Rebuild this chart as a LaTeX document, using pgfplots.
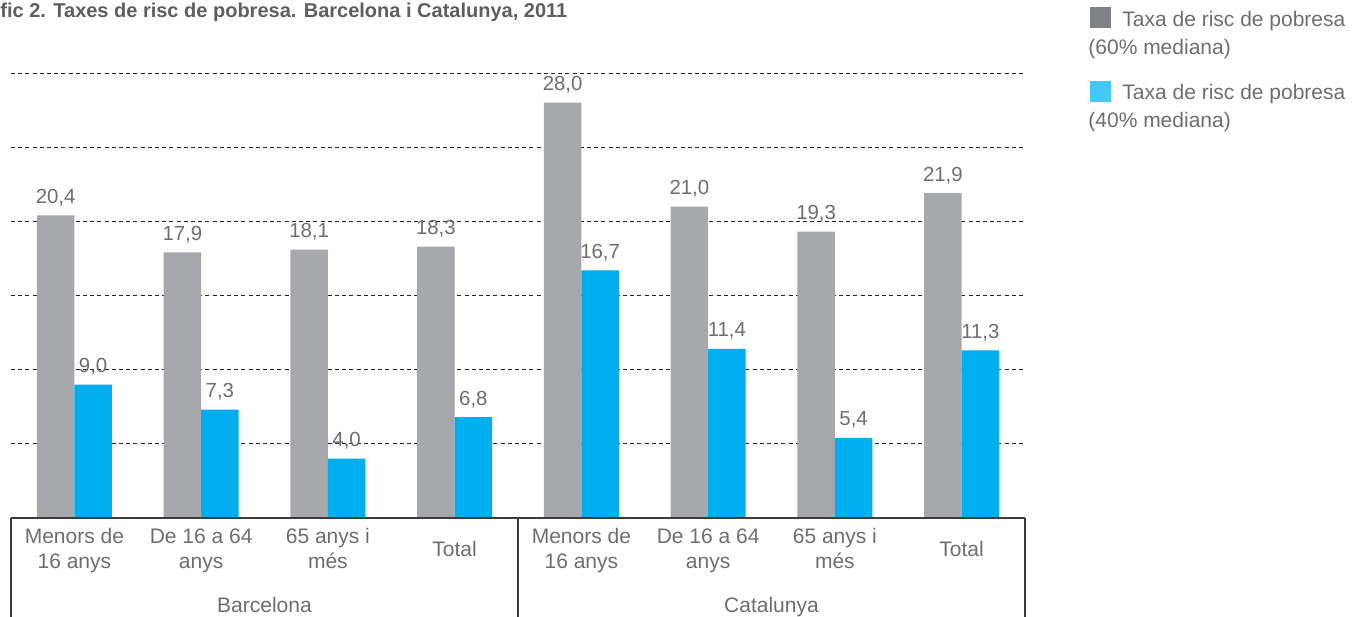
\documentclass[border=0pt]{standalone}
\usepackage{fontspec}
\setmainfont{Liberation Sans}
\usepackage{pgfplots}
\pgfplotsset{compat=1.18}
\definecolor{bargray}{HTML}{A7A8AC}
\definecolor{barcyan}{HTML}{00AEEF}
\definecolor{leggray}{HTML}{808285}
\definecolor{legcyan}{HTML}{45C8F5}
\definecolor{txt}{HTML}{6D6E71}
\definecolor{rulec}{HTML}{3C3C3C}

\begin{document}
\begin{tikzpicture}[x=1pt,y=1pt]
\begin{axis}[
  at={(5.5pt,49pt)}, anchor=south west,
  width=507pt, height=222.5pt, scale only axis,
  xmin=-0.5, xmax=7.5, ymin=0, ymax=30,
  ybar=0pt, bar width=18.75pt,
  axis line style={draw=none},
  ytick={5,10,...,30}, yticklabels={},
  ymajorgrids, grid style={black!85, dash pattern=on 2pt off 1.6pt, line width=0.5pt},
  major tick length=0pt,
  xtick={0,...,7},
  xticklabels={{Menors de\strut\\16 anys\strut},{De 16 a 64\strut\\anys\strut},{65 anys i\strut\\més\strut},Total\strut,
               {Menors de\strut\\16 anys\strut},{De 16 a 64\strut\\anys\strut},{65 anys i\strut\\més\strut},Total\strut},
  xticklabel style={align=center, anchor=center, yshift=-16.5pt, inner sep=0pt,
    font=\fontsize{10.5}{12.5}\selectfont, text=txt},
  nodes near coords,
  every node near coord/.append style={anchor=base, yshift=6pt, inner sep=0pt,
    font=\fontsize{10.2}{12}\selectfont, text=txt,
    /pgf/number format/fixed, /pgf/number format/fixed zerofill,
    /pgf/number format/precision=1, /pgf/number format/use comma},
  /pgf/number format/assume math mode=true,
  clip=false,
]
\addplot[fill=bargray, draw=none] coordinates {
  (0,20.4) (1,17.9) (2,18.1) (3,18.3) (4,28.0) (5,21.0) (6,19.3) (7,21.9)};
\addplot[fill=barcyan, draw=none] coordinates {
  (0,9.0) (1,7.3) (2,4.0) (3,6.8) (4,16.7) (5,11.4) (6,5.4) (7,11.3)};
\draw[rulec, line width=0.7pt] (axis cs:-0.5,0) -- (axis cs:7.5,0);
\draw[rulec, line width=0.7pt] (axis cs:-0.5,0) -- ([yshift=-60pt]axis cs:-0.5,0);
\draw[rulec, line width=0.7pt] (axis cs:3.5,0) -- ([yshift=-60pt]axis cs:3.5,0);
\draw[rulec, line width=0.7pt] (axis cs:7.5,0) -- ([yshift=-60pt]axis cs:7.5,0);
\node[anchor=base, text=txt, font=\fontsize{10.5}{12}\selectfont, yshift=-47pt] at (axis cs:1.5,0) {Barcelona};
\node[anchor=base, text=txt, font=\fontsize{10.5}{12}\selectfont, yshift=-47pt] at (axis cs:5.5,0) {Catalunya};
\end{axis}
% title
\node[anchor=base west, inner sep=0pt, text=txt!85!black, font=\fontsize{10}{12}\selectfont\bfseries] at (0,299) {fic 2. Taxes de risc de pobresa. Barcelona i Catalunya, 2011};
% legend
\fill[leggray] (545,294) rectangle (555.5,304.5);
\node[anchor=base west, inner sep=0pt, text=txt, font=\fontsize{10.5}{12}\selectfont] at (561,294.5) {Taxa de risc de pobresa};
\node[anchor=base west, inner sep=0pt, text=txt, font=\fontsize{10.5}{12}\selectfont] at (544,280.5) {(60\% mediana)};
\fill[legcyan] (545,257) rectangle (555.5,267.5);
\node[anchor=base west, inner sep=0pt, text=txt, font=\fontsize{10.5}{12}\selectfont] at (561,258) {Taxa de risc de pobresa};
\node[anchor=base west, inner sep=0pt, text=txt, font=\fontsize{10.5}{12}\selectfont] at (544,244) {(40\% mediana)};
\pgfresetboundingbox
\useasboundingbox (0,0) rectangle (684,308);
\end{tikzpicture}
\end{document}
